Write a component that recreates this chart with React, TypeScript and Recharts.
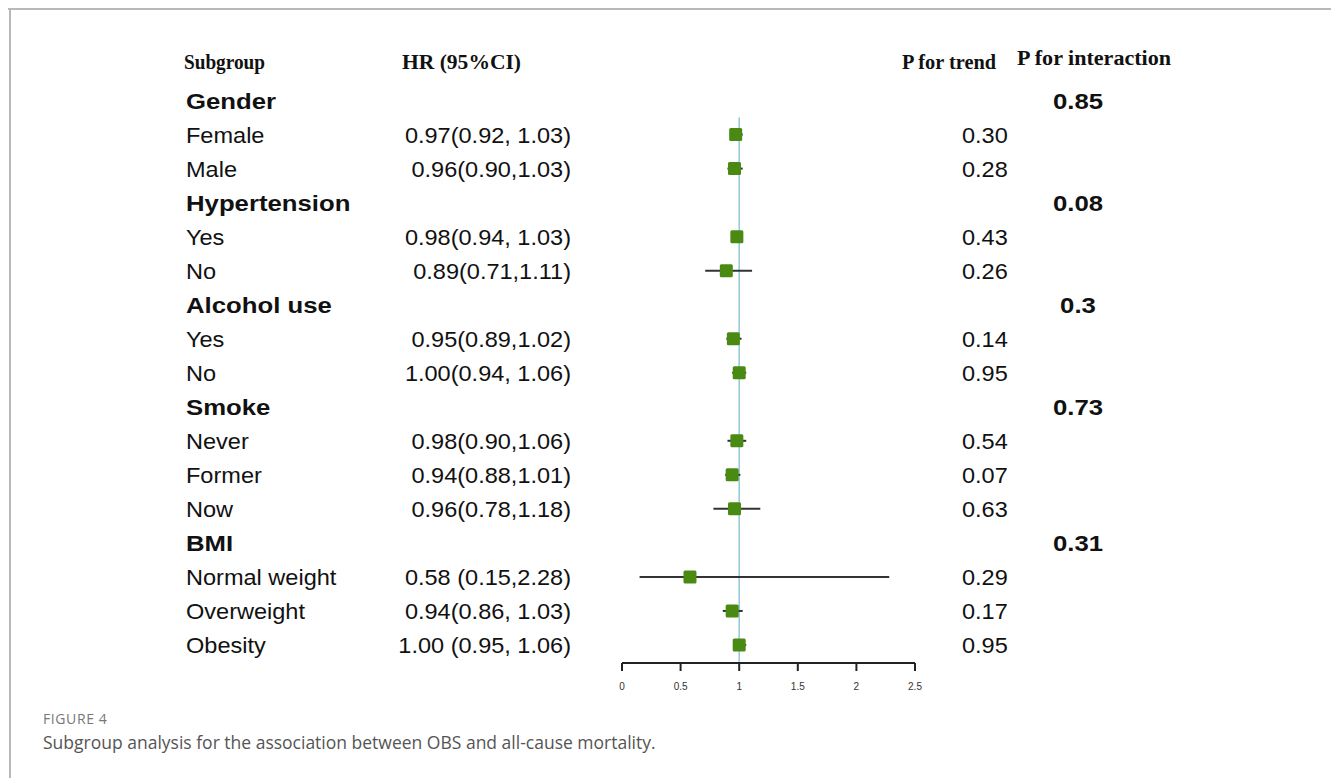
import React from 'react';
import { ComposedChart, Scatter, XAxis, YAxis, ErrorBar, ReferenceLine } from 'recharts';

const rowLabels = ['Gender', 'Female', 'Male', 'Hypertension', 'Yes', 'No', 'Alcohol use', 'Yes', 'No', 'Smoke', 'Never', 'Former', 'Now', 'BMI', 'Normal weight', 'Overweight', 'Obesity'];
const isGroup = [true, false, false, true, false, false, true, false, false, true, false, false, false, true, false, false, false];
const hrText = ['', '0.97(0.92, 1.03)', '0.96(0.90,1.03)', '', '0.98(0.94, 1.03)', '0.89(0.71,1.11)', '', '0.95(0.89,1.02)', '1.00(0.94, 1.06)', '', '0.98(0.90,1.06)', '0.94(0.88,1.01)', '0.96(0.78,1.18)', '', '0.58 (0.15,2.28)', '0.94(0.86, 1.03)', '1.00 (0.95, 1.06)'];
const hrValues = [null, 0.97, 0.96, null, 0.98, 0.89, null, 0.95, 1.0, null, 0.98, 0.94, 0.96, null, 0.58, 0.94, 1.0];
const lowerCI = [null, 0.92, 0.9, null, 0.94, 0.71, null, 0.89, 0.94, null, 0.9, 0.88, 0.78, null, 0.15, 0.86, 0.95];
const upperCI = [null, 1.03, 1.03, null, 1.03, 1.11, null, 1.02, 1.06, null, 1.06, 1.01, 1.18, null, 2.28, 1.03, 1.06];
const pTrend = ['', '0.30', '0.28', '', '0.43', '0.26', '', '0.14', '0.95', '', '0.54', '0.07', '0.63', '', '0.29', '0.17', '0.95'];
const pInteraction = ['0.85', '', '', '0.08', '', '', '0.3', '', '', '0.73', '', '', '', '0.31', '', '', ''];
const xTicks = [0, 0.5, 1, 1.5, 2, 2.5];
const headers = ['Subgroup', 'HR (95%CI)', 'P for trend', 'P for interaction'];

const points = hrValues
  .map((v, i) => (v == null ? null : { row: i, hr: v, err: [v - (lowerCI[i] as number), (upperCI[i] as number) - v] }))
  .filter((d) => d !== null);

const rowTicks = rowLabels.map((_, i) => i);

const SANS = '"Liberation Sans", Arial, sans-serif';
const SERIF = '"Liberation Serif", "Times New Roman", serif';

function Txt({ x, y, text, bold, anchor }: { x: number; y: number; text: string; bold?: boolean; anchor?: string }) {
  const sx = bold ? 1.17 : 1.07;
  return (
    <g transform={`translate(${x},${y}) scale(${sx},1)`}>
      <text x={0} y={0} fontFamily={SANS} fontSize={22} fontWeight={bold ? 'bold' : 'normal'} fill="#111" textAnchor={anchor || 'start'}>
        {text}
      </text>
    </g>
  );
}

function RowTick(props: any) {
  const { y, payload } = props;
  const i = Math.round(Number(payload.value));
  const base = y + 8;
  return (
    <g>
      {i === 0 && (
        <g fontFamily={SERIF} fontWeight="bold" fontSize={20} fill="#111">
          <text x={184} y={69} textLength={81} lengthAdjust="spacingAndGlyphs">{headers[0]}</text>
          <text x={402} y={69} textLength={119} lengthAdjust="spacingAndGlyphs">{headers[1]}</text>
          <text x={902} y={69} textLength={94} lengthAdjust="spacingAndGlyphs">{headers[2]}</text>
          <text x={1017} y={65} textLength={154} lengthAdjust="spacingAndGlyphs">{headers[3]}</text>
        </g>
      )}
      <Txt x={186} y={base} text={rowLabels[i]} bold={isGroup[i]} />
      {hrText[i] ? <Txt x={571} y={base} text={hrText[i]} anchor="end" /> : null}
      {pTrend[i] ? <Txt x={962} y={base} text={pTrend[i]} /> : null}
      {pInteraction[i] ? <Txt x={1078} y={base} text={pInteraction[i]} bold anchor="middle" /> : null}
    </g>
  );
}

const Square = (props: any) => {
  const { cx, cy } = props;
  return <rect x={cx - 6.5} y={cy - 6.5} width={13} height={13} rx={1.5} fill="#4a8a12" />;
};

export default function App() {
  return (
    <div style={{ position: 'fixed', left: 0, top: 0, width: 1331, height: 778, background: '#fff', overflow: 'hidden' }}>
      <div style={{ position: 'absolute', left: 8, top: 8, width: 1323, height: 2, background: '#b8b8b8' }} />
      <div style={{ position: 'absolute', left: 9, top: 8, width: 2, height: 770, background: '#b8b8b8' }} />
      <div style={{ position: 'absolute', left: 0, top: 0 }}>
        <ComposedChart width={1331} height={778} data={points} margin={{ top: 66.5, right: 416, bottom: 85, left: 612 }}>
          <XAxis
            type="number"
            dataKey="hr"
            domain={[0, 2.5]}
            ticks={xTicks}
            interval={0}
            height={30}
            axisLine={{ stroke: '#222', strokeWidth: 2 }}
            tickLine={{ stroke: '#222', strokeWidth: 2 }}
            tickSize={8}
            tickMargin={12}
            tick={{ fontSize: 10, fill: '#333', fontFamily: SANS }}
            allowDataOverflow
          />
          <YAxis
            type="number"
            dataKey="row"
            domain={[-1, 16.53]}
            reversed
            ticks={rowTicks}
            interval={0}
            width={10}
            axisLine={false}
            tickLine={false}
            tick={RowTick}
            allowDataOverflow
          />
          <ReferenceLine
            segment={[{ x: 1, y: 0.5 }, { x: 1, y: 16.53 }]}
            stroke="#8cc9dc"
            strokeWidth={1.5}
            ifOverflow="visible"
          />
          <Scatter dataKey="row" shape={<Square />} isAnimationActive={false}>
            <ErrorBar dataKey="err" direction="x" width={0} stroke="#333" strokeWidth={2} />
          </Scatter>
        </ComposedChart>
      </div>
      <div style={{ position: 'absolute', left: 43, top: 711, fontFamily: '"Open Sans", sans-serif', fontSize: 14, lineHeight: '16px', color: '#777', letterSpacing: 0.6 }}>
        FIGURE 4
      </div>
      <div style={{ position: 'absolute', left: 43, top: 731, fontFamily: '"Open Sans", sans-serif', fontSize: 17.5, lineHeight: '22px', color: '#555' }}>
        Subgroup analysis for the association between OBS and all-cause mortality.
      </div>
    </div>
  );
}
